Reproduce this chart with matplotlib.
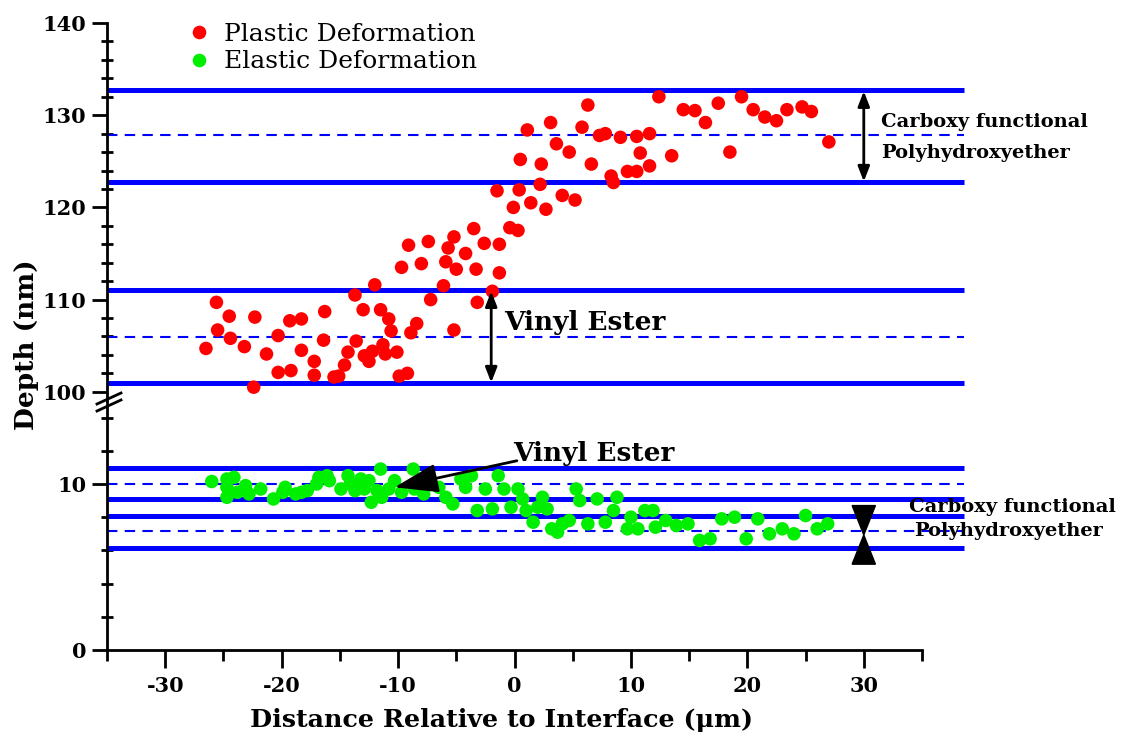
import matplotlib
matplotlib.use('Agg')
import matplotlib.pyplot as plt
from matplotlib.lines import Line2D
from matplotlib.ticker import FixedLocator

# ---------------- data ----------------
plastic_x = [-26.5, -25.6, -25.5, -24.5, -24.4, -23.2, -22.3, -22.4, -21.3, -20.3,
             -20.3, -19.2, -19.3, -18.3, -18.3, -17.2, -17.2, -16.3, -16.4, -15.5,
             -15.1, -14.6, -14.3, -13.7, -13.6, -13.0, -12.9, -12.5, -12.0, -12.2,
             -11.5, -11.3, -11.1, -10.8, -10.6, -10.1, -9.9, -9.2, -9.7, -9.1,
             -8.9, -8.4, -8.0, -7.4, -7.2, -6.1, -5.9, -5.7, -5.2, -5.0,
             -5.2, -4.2, -3.5, -3.3, -3.2, -2.6, -1.9, -1.3, -1.3, -1.5,
             -0.4, -0.1, 0.3, 0.4, 0.5, 1.1, 1.4, 2.2, 2.3, 2.7,
             3.1, 3.6, 4.1, 4.7, 5.2, 5.8, 6.3, 6.6, 7.3, 7.8,
             8.3, 8.5, 9.1, 9.7, 10.5, 10.5, 10.8, 11.6, 11.6, 12.4,
             13.5, 14.5, 15.5, 16.4, 17.5, 18.5, 19.5, 20.5, 21.5, 22.5,
             23.4, 24.7, 25.5, 27.0]
plastic_y = [104.7, 109.7, 106.7, 108.2, 105.8, 104.9, 108.1, 100.5, 104.1, 106.1,
             102.1, 102.3, 107.7, 107.9, 104.5, 103.3, 101.8, 108.7, 105.6, 101.6,
             101.7, 102.9, 104.3, 110.5, 105.5, 108.9, 103.9, 103.3, 111.6, 104.4,
             108.9, 105.1, 104.1, 107.9, 106.6, 104.3, 101.7, 102.0, 113.5, 115.9,
             106.4, 107.4, 113.9, 116.3, 110.0, 111.5, 114.1, 115.6, 116.8, 113.3,
             106.7, 115.0, 117.7, 113.3, 109.7, 116.1, 110.9, 112.9, 116.0, 121.8,
             117.8, 120.0, 117.5, 121.9, 125.2, 128.4, 120.5, 122.5, 124.7, 119.8,
             129.2, 126.9, 121.3, 126.0, 120.8, 128.7, 131.1, 124.7, 127.8, 128.0,
             123.4, 122.7, 127.6, 123.9, 123.9, 127.7, 125.9, 124.5, 128.0, 132.0,
             125.6, 130.6, 130.5, 129.2, 131.3, 126.0, 132.0, 130.6, 129.8, 129.4,
             130.6, 130.9, 130.4, 127.1]

elastic_x = [-26.0, -24.7, -24.7, -24.1, -24.7, -23.8, -23.1, -22.8, -21.8, -20.7,
             -19.9, -19.7, -18.8, -18.3, -17.8, -17.0, -16.8, -16.1, -15.9, -14.9,
             -14.3, -14.1, -13.7, -13.2, -12.9, -12.5, -12.3, -11.8, -11.5, -11.4,
             -10.8, -10.3, -9.7, -8.7, -8.6, -7.8, -6.5, -5.9, -5.3, -4.6,
             -4.2, -3.7, -3.2, -2.5, -1.9, -1.4, -0.9, -0.3, 0.3, 0.7,
             1.0, 1.6, 2.0, 2.4, 2.8, 3.2, 3.7, 4.1, 4.7, 5.3,
             5.6, 6.3, 7.1, 7.8, 8.5, 8.8, 9.7, 10.0, 10.6, 11.2,
             11.9, 12.1, 13.0, 13.9, 14.9, 15.9, 16.8, 17.8, 18.9, 19.9,
             20.9, 21.9, 23.0, 24.0, 25.0, 26.0, 26.9]
elastic_y = [10.15, 10.3, 9.8, 10.4, 9.2, 9.5, 9.9, 9.4, 9.7, 9.1,
             9.5, 9.8, 9.4, 9.5, 9.6, 10.0, 10.4, 10.5, 10.2, 9.7,
             10.5, 10.0, 9.6, 10.3, 9.7, 10.2, 8.9, 9.6, 10.9, 9.2,
             9.7, 10.2, 9.5, 10.9, 9.7, 9.4, 9.8, 9.2, 8.8, 10.3,
             9.8, 10.5, 8.4, 9.7, 8.5, 10.5, 9.7, 8.6, 9.7, 9.1,
             8.4, 7.7, 8.6, 9.2, 8.5, 7.3, 7.1, 7.6, 7.8, 9.7,
             9.0, 7.6, 9.1, 7.7, 8.4, 9.2, 7.3, 8.0, 7.3, 8.4,
             8.4, 7.4, 7.8, 7.5, 7.6, 6.6, 6.7, 7.9, 8.0, 6.7,
             7.9, 7.0, 7.3, 7.0, 8.1, 7.3, 7.6]

upper_solid = [132.7, 122.7, 111.0, 100.9]
upper_dashed = [127.8, 105.9]
lower_solid = [10.95, 9.1, 8.1, 6.15]
lower_dashed = [10.0, 7.15]

x_ticks = [-30, -20, -10, 0, 10, 20, 30]
x_minor = [-35, -25, -15, -5, 5, 15, 25, 35]
upper_ticks = [100, 110, 120, 130, 140]
lower_ticks = [0, 10]

series_labels = ['Plastic Deformation', 'Elastic Deformation']

# ---------------- style ----------------
plt.rcParams['font.family'] = ['DejaVu Serif']
plt.rcParams['axes.unicode_minus'] = False
W, H = 1124, 742
fig = plt.figure(figsize=(W / 100, H / 100), dpi=100)


def px(l, t, r, b):
    return [l / W, 1 - b / H, (r - l) / W, (b - t) / H]


ax_top = fig.add_axes(px(107, 23, 922, 401))
ax_bot = fig.add_axes(px(107, 401, 922, 650))

XMIN, XMAX, LINE_END = -35, 35, 38.6
BLUE = '#0000ff'
for ax in (ax_top, ax_bot):
    ax.set_xlim(XMIN, XMAX)
    for s in ('top', 'right'):
        ax.spines[s].set_visible(False)
    ax.spines['left'].set_linewidth(2.0)
    ax.spines['bottom'].set_linewidth(2.0)
    ax.tick_params(axis='y', which='major', direction='out', length=11, width=2.0,
                   labelsize=15, pad=4)
    ax.tick_params(axis='y', which='minor', direction='inout', length=9, width=2.0)
ax_top.spines['bottom'].set_visible(False)
ax_top.tick_params(axis='x', which='both', bottom=False, labelbottom=False)
ax_bot.tick_params(axis='x', which='major', direction='out', length=13, width=2.0,
                   labelsize=15, pad=6)
ax_bot.tick_params(axis='x', which='minor', direction='out', length=8, width=2.0)

ax_top.set_ylim(99, 140)
ax_bot.set_ylim(0, 15)
ax_top.yaxis.set_major_locator(FixedLocator(upper_ticks))
ax_top.yaxis.set_minor_locator(FixedLocator([v for v in range(100, 141, 2) if v % 10]))
ax_bot.yaxis.set_major_locator(FixedLocator(lower_ticks))
ax_bot.yaxis.set_minor_locator(FixedLocator([2, 4, 6, 8, 12, 14]))
ax_bot.xaxis.set_major_locator(FixedLocator(x_ticks))
ax_bot.xaxis.set_minor_locator(FixedLocator(x_minor))
for ax in (ax_top, ax_bot):
    for lab in ax.get_yticklabels() + ax.get_xticklabels():
        lab.set_fontweight('bold')

# horizontal layer boundaries
for ax, solids, dashes in ((ax_top, upper_solid, upper_dashed),
                           (ax_bot, lower_solid, lower_dashed)):
    for yv in solids:
        ax.plot([XMIN, LINE_END], [yv, yv], color=BLUE, lw=3.6, clip_on=False,
                solid_capstyle='butt', zorder=2)
    for yv in dashes:
        ax.plot([XMIN, LINE_END], [yv, yv], color=BLUE, lw=1.5, ls=(0, (5, 3.5)),
                clip_on=False, zorder=2)

# data
MS = 95
ax_top.scatter(plastic_x, plastic_y, s=MS, color='#ff0000', edgecolors='none',
               zorder=3, clip_on=False)
ax_bot.scatter(elastic_x, elastic_y, s=MS, color='#00ee00', edgecolors='none',
               zorder=3, clip_on=False)

# annotations
arrow_kw = dict(arrowstyle='<|-|>,head_length=0.9,head_width=0.35', color='black',
                lw=2, shrinkA=0, shrinkB=0)
ax_top.annotate('', xy=(30, 132.6), xytext=(30, 122.8), arrowprops=arrow_kw,
                annotation_clip=False)
ax_top.annotate('', xy=(-2.0, 110.9), xytext=(-2.0, 101.0), arrowprops=arrow_kw)
ax_top.text(-0.9, 107.5, 'Vinyl Ester', fontsize=19, fontweight='bold', va='center',
            ha='left')
ax_top.text(31.5, 129.3, 'Carboxy functional', fontsize=14, fontweight='bold',
            va='center', ha='left')
ax_top.text(31.5, 125.9, 'Polyhydroxyether', fontsize=14, fontweight='bold',
            va='center', ha='left')

ax_bot.text(-0.1, 11.85, 'Vinyl Ester', fontsize=19, fontweight='bold', va='center',
            ha='left')
ax_bot.annotate('', xy=(-10.3, 9.8), xytext=(0.2, 11.4),
                arrowprops=dict(arrowstyle='-|>,head_length=2.7,head_width=0.9',
                                color='black', lw=2, shrinkA=0, shrinkB=0))
ax_bot.text(33.9, 8.63, 'Carboxy functional', fontsize=14, fontweight='bold',
            va='center', ha='left', clip_on=False)
ax_bot.text(34.3, 7.17, 'Polyhydroxyether', fontsize=14, fontweight='bold',
            va='center', ha='left', clip_on=False)
# bow-tie marker (two arrowheads meeting)
BX, BTOP, BMID, BBOT, BHW = 30, 8.7, 6.93, 5.17, 1.0
ax_bot.fill([BX - BHW, BX + BHW, BX], [BTOP, BTOP, BMID], color='black',
            clip_on=False, zorder=4)
ax_bot.fill([BX - BHW, BX + BHW, BX], [BBOT, BBOT, BMID], color='black',
            clip_on=False, zorder=4)

# axis break marks on the left spine
for dy in (0, 7):
    fig.add_artist(Line2D([97 / W, 121 / W], [1 - (404 + dy) / H, 1 - (393 + dy) / H],
                          color='black', lw=2.0))

# labels
fig.text(27 / W, 1 - 345 / H, 'Depth (nm)', rotation=90, fontsize=19,
         fontweight='bold', ha='center', va='center')
fig.text(502 / W, 1 - 720 / H, 'Distance Relative to Interface (\u03bcm)', fontsize=18.3,
         fontweight='bold', ha='center', va='center')

# legend
handles = [Line2D([], [], ls='none', marker='o', ms=9.8, color='#ff0000', mec='none'),
           Line2D([], [], ls='none', marker='o', ms=9.8, color='#00ee00', mec='none')]
fig.legend(handles, series_labels, loc='upper left',
           bbox_to_anchor=(188 / W, 1 - 23 / H), frameon=False, fontsize=18,
           handlelength=0.9, handletextpad=0.55, labelspacing=0.18, borderpad=0,
           borderaxespad=0)

fig.savefig('out.png', dpi=100)
